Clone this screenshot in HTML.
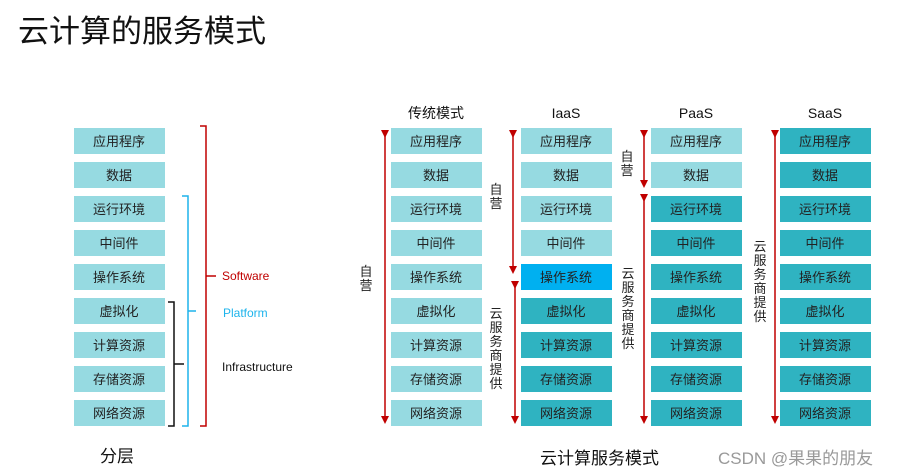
<!DOCTYPE html>
<html><head><meta charset="utf-8"><style>
html,body{margin:0;padding:0;background:#fff;}
svg{display:block;font-family:"Liberation Sans","Noto Sans CJK SC",sans-serif;}
.t{font-size:13px;fill:#222;text-anchor:middle;}
.v{font-size:13px;fill:#222;text-anchor:middle;}
</style></head><body>
<svg width="904" height="476" viewBox="0 0 904 476" xmlns="http://www.w3.org/2000/svg">
<defs>
<marker id="ah" markerWidth="8" markerHeight="8" refX="4" refY="4" orient="auto" markerUnits="userSpaceOnUse"><path d="M0,0 L8,4 L0,8 z" fill="#c00000"/></marker>
</defs>
<text x="18" y="42" font-size="31" fill="#111">云计算的服务模式</text>

<!-- Left column -->
<g fill="#96dae1">
<rect x="74" y="128" width="91" height="26"/><rect x="74" y="162" width="91" height="26"/><rect x="74" y="196" width="91" height="26"/><rect x="74" y="230" width="91" height="26"/><rect x="74" y="264" width="91" height="26"/><rect x="74" y="298" width="91" height="26"/><rect x="74" y="332" width="91" height="26"/><rect x="74" y="366" width="91" height="26"/><rect x="74" y="400" width="91" height="26"/>
</g>
<g class="t">
<text x="119" y="146" class="t">应用程序</text><text x="119" y="180" class="t">数据</text><text x="119" y="214" class="t">运行环境</text><text x="119" y="248" class="t">中间件</text><text x="119" y="282" class="t">操作系统</text><text x="119" y="316" class="t">虚拟化</text><text x="119" y="350" class="t">计算资源</text><text x="119" y="384" class="t">存储资源</text><text x="119" y="418" class="t">网络资源</text>
</g>
<!-- brackets -->
<path d="M200,126 H206 V426 H200 M206,276 H216" fill="none" stroke="#c00000" stroke-width="1.5"/>
<path d="M182,196 H188 V426 H182 M188,311 H196" fill="none" stroke="#1eb4ec" stroke-width="1.5"/>
<path d="M168,302 H174 V426 H168 M174,364 H184" fill="none" stroke="#111" stroke-width="1.5"/>
<text x="222" y="280" font-size="12" fill="#c00000">Software</text>
<text x="223" y="317" font-size="12" fill="#1eb4ec">Platform</text>
<text x="222" y="371" font-size="12" fill="#111">Infrastructure</text>
<text x="100" y="462" font-size="17" fill="#111">分层</text>

<!-- headers -->
<text x="436" y="118" font-size="14" text-anchor="middle" fill="#111">传统模式</text>
<text x="566" y="118" font-size="14" text-anchor="middle" fill="#111">IaaS</text>
<text x="696" y="118" font-size="14" text-anchor="middle" fill="#111">PaaS</text>
<text x="825" y="118" font-size="14" text-anchor="middle" fill="#111">SaaS</text>

<!-- traditional -->
<g fill="#96dae1">
<rect x="391" y="128" width="91" height="26"/><rect x="391" y="162" width="91" height="26"/><rect x="391" y="196" width="91" height="26"/><rect x="391" y="230" width="91" height="26"/><rect x="391" y="264" width="91" height="26"/><rect x="391" y="298" width="91" height="26"/><rect x="391" y="332" width="91" height="26"/><rect x="391" y="366" width="91" height="26"/><rect x="391" y="400" width="91" height="26"/>
</g>
<text x="436" y="146" class="t">应用程序</text><text x="436" y="180" class="t">数据</text><text x="436" y="214" class="t">运行环境</text><text x="436" y="248" class="t">中间件</text><text x="436" y="282" class="t">操作系统</text><text x="436" y="316" class="t">虚拟化</text><text x="436" y="350" class="t">计算资源</text><text x="436" y="384" class="t">存储资源</text><text x="436" y="418" class="t">网络资源</text>

<!-- IaaS -->
<g fill="#96dae1">
<rect x="521" y="128" width="91" height="26"/><rect x="521" y="162" width="91" height="26"/><rect x="521" y="196" width="91" height="26"/><rect x="521" y="230" width="91" height="26"/>
</g>
<rect x="521" y="264" width="91" height="26" fill="#00b0f0"/>
<g fill="#2fb3c1">
<rect x="521" y="298" width="91" height="26"/><rect x="521" y="332" width="91" height="26"/><rect x="521" y="366" width="91" height="26"/><rect x="521" y="400" width="91" height="26"/>
</g>
<text x="566" y="146" class="t">应用程序</text><text x="566" y="180" class="t">数据</text><text x="566" y="214" class="t">运行环境</text><text x="566" y="248" class="t">中间件</text><text x="566" y="282" class="t">操作系统</text><text x="566" y="316" class="t">虚拟化</text><text x="566" y="350" class="t">计算资源</text><text x="566" y="384" class="t">存储资源</text><text x="566" y="418" class="t">网络资源</text>

<!-- PaaS -->
<g fill="#96dae1">
<rect x="651" y="128" width="91" height="26"/><rect x="651" y="162" width="91" height="26"/>
</g>
<g fill="#2fb3c1">
<rect x="651" y="196" width="91" height="26"/><rect x="651" y="230" width="91" height="26"/><rect x="651" y="264" width="91" height="26"/><rect x="651" y="298" width="91" height="26"/><rect x="651" y="332" width="91" height="26"/><rect x="651" y="366" width="91" height="26"/><rect x="651" y="400" width="91" height="26"/>
</g>
<text x="696" y="146" class="t">应用程序</text><text x="696" y="180" class="t">数据</text><text x="696" y="214" class="t">运行环境</text><text x="696" y="248" class="t">中间件</text><text x="696" y="282" class="t">操作系统</text><text x="696" y="316" class="t">虚拟化</text><text x="696" y="350" class="t">计算资源</text><text x="696" y="384" class="t">存储资源</text><text x="696" y="418" class="t">网络资源</text>

<!-- SaaS -->
<g fill="#2fb3c1">
<rect x="780" y="128" width="91" height="26"/><rect x="780" y="162" width="91" height="26"/><rect x="780" y="196" width="91" height="26"/><rect x="780" y="230" width="91" height="26"/><rect x="780" y="264" width="91" height="26"/><rect x="780" y="298" width="91" height="26"/><rect x="780" y="332" width="91" height="26"/><rect x="780" y="366" width="91" height="26"/><rect x="780" y="400" width="91" height="26"/>
</g>
<text x="825" y="146" class="t">应用程序</text><text x="825" y="180" class="t">数据</text><text x="825" y="214" class="t">运行环境</text><text x="825" y="248" class="t">中间件</text><text x="825" y="282" class="t">操作系统</text><text x="825" y="316" class="t">虚拟化</text><text x="825" y="350" class="t">计算资源</text><text x="825" y="384" class="t">存储资源</text><text x="825" y="418" class="t">网络资源</text>

<!-- arrows -->
<g stroke="#c00000" stroke-width="1.5" fill="none">
<line x1="385" y1="134" x2="385" y2="420" marker-start="url(#ah)" marker-end="url(#ah)"/>
<line x1="513" y1="134" x2="513" y2="270" marker-start="url(#ah)" marker-end="url(#ah)"/>
<line x1="515" y1="285" x2="515" y2="420" marker-start="url(#ah)" marker-end="url(#ah)"/>
<line x1="644" y1="134" x2="644" y2="184" marker-start="url(#ah)" marker-end="url(#ah)"/>
<line x1="644" y1="198" x2="644" y2="420" marker-start="url(#ah)" marker-end="url(#ah)"/>
<line x1="775" y1="134" x2="775" y2="420" marker-start="url(#ah)" marker-end="url(#ah)"/>
</g>

<!-- vertical labels -->
<g class="v">
<text x="366" y="276" class="v">自</text><text x="366" y="290" class="v">营</text>
<text x="496" y="194" class="v">自</text><text x="496" y="208" class="v">营</text>
<text x="496" y="318" class="v">云</text><text x="496" y="332" class="v">服</text><text x="496" y="346" class="v">务</text><text x="496" y="360" class="v">商</text><text x="496" y="374" class="v">提</text><text x="496" y="388" class="v">供</text>
<text x="627" y="161" class="v">自</text><text x="627" y="175" class="v">营</text>
<text x="628" y="278" class="v">云</text><text x="628" y="292" class="v">服</text><text x="628" y="306" class="v">务</text><text x="628" y="320" class="v">商</text><text x="628" y="334" class="v">提</text><text x="628" y="348" class="v">供</text>
<text x="760" y="251" class="v">云</text><text x="760" y="265" class="v">服</text><text x="760" y="279" class="v">务</text><text x="760" y="293" class="v">商</text><text x="760" y="307" class="v">提</text><text x="760" y="321" class="v">供</text>
</g>

<text x="540" y="464" font-size="17" fill="#111">云计算服务模式</text>
<text x="718" y="464" font-size="17" fill="#999">CSDN @果果的朋友</text>
</svg>
</body></html>
